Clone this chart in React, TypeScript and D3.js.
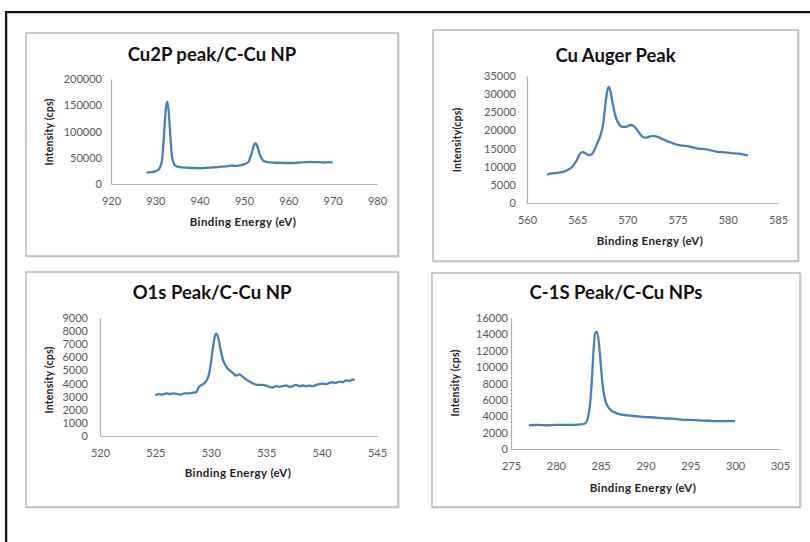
import React, { useRef, useEffect } from "react";
import * as d3 from "d3";

// Cu 2p spectrum
const cu2pEnergy = [928, 929, 930, 930.8, 931.5, 932, 932.4, 932.7, 933, 933.4, 933.8, 934.3, 935, 936, 937, 938, 939, 940, 941, 942, 943, 944, 945, 946, 947, 948, 949, 950, 951, 951.7, 952.3, 952.6, 953, 953.6, 954.3, 955, 956, 957, 958, 959, 960, 961, 962, 963, 964, 965, 966, 967, 968, 969, 970];
const cu2pCounts = [21500, 22500, 24000, 28000, 45000, 100000, 145000, 157000, 140000, 90000, 50000, 37000, 33000, 31500, 31000, 30500, 30500, 30000, 30500, 31000, 31500, 32000, 33000, 33500, 35000, 34500, 35500, 37500, 42000, 58000, 75000, 78000, 72000, 55000, 45000, 42000, 41000, 40500, 40500, 40000, 40000, 40000, 40500, 41000, 41500, 42000, 41500, 41500, 41000, 41500, 41000];

// Cu LMM Auger
const augerEnergy = [562, 562.3, 562.6, 563, 563.5, 564, 564.5, 564.9, 565.2, 565.5, 565.8, 566.1, 566.4, 566.7, 567, 567.3, 567.6, 567.8, 568, 568.15, 568.3, 568.5, 568.8, 569.1, 569.5, 569.9, 570.3, 570.6, 571, 571.4, 571.8, 572.2, 572.6, 573, 573.5, 574, 574.5, 575, 575.5, 576, 576.5, 577, 577.5, 578, 578.5, 579, 579.5, 580, 580.5, 581, 581.5, 582];
const augerCounts = [7800, 8100, 8200, 8300, 8500, 9000, 10000, 11500, 13200, 14000, 13800, 13200, 13300, 14500, 16500, 18500, 22000, 27000, 31000, 32000, 31000, 28000, 24000, 22000, 21000, 21000, 21500, 21300, 20000, 18500, 18000, 18300, 18500, 18200, 17600, 17000, 16500, 16000, 15800, 15700, 15300, 15000, 14900, 14700, 14400, 14100, 14000, 13900, 13700, 13600, 13400, 13100];

// O 1s
const o1sEnergy = [525, 525.3, 525.6, 526, 526.3, 526.6, 527, 527.3, 527.6, 528, 528.4, 528.7, 528.9, 529.2, 529.5, 529.8, 530, 530.2, 530.4, 530.5, 530.7, 530.9, 531.1, 531.4, 531.7, 532, 532.3, 532.6, 532.9, 533.2, 533.5, 533.8, 534.2, 534.6, 535, 535.3, 535.6, 535.9, 536.2, 536.5, 536.8, 537.1, 537.4, 537.7, 538, 538.3, 538.6, 538.9, 539.2, 539.5, 539.8, 540.1, 540.4, 540.7, 541, 541.3, 541.6, 541.9, 542.2, 542.5, 542.8, 543];
const o1sCounts = [3100, 3200, 3150, 3250, 3200, 3250, 3200, 3150, 3250, 3250, 3300, 3350, 3700, 3900, 4100, 4600, 5500, 6800, 7700, 7800, 7400, 6500, 5800, 5300, 5000, 4800, 4600, 4700, 4500, 4300, 4150, 4000, 3900, 3900, 3850, 3750, 3700, 3800, 3750, 3800, 3850, 3750, 3800, 3900, 3800, 3850, 3800, 3850, 3800, 3900, 3950, 4000, 3950, 4050, 4100, 4050, 4150, 4100, 4250, 4200, 4300, 4300];

// C 1s
const c1sEnergy = [277, 278, 279, 280, 281, 282, 282.8, 283.3, 283.7, 284, 284.2, 284.4, 284.6, 284.8, 285, 285.2, 285.5, 285.8, 286.2, 286.7, 287.3, 288, 289, 290, 291, 292, 293, 294, 295, 296, 297, 298, 299, 300];
const c1sCounts = [2900, 2950, 2900, 2950, 2950, 2950, 3000, 3150, 4500, 8000, 12000, 14200, 14300, 13000, 10500, 8000, 6000, 5200, 4700, 4400, 4200, 4100, 4000, 3900, 3850, 3750, 3700, 3600, 3550, 3500, 3450, 3400, 3400, 3400];

const panels = [
  { title: "Cu2P peak/C-Cu NP", yTitle: "Intensity (cps)", xs: cu2pEnergy, ys: cu2pCounts,
    xDom: [920, 980], xStep: 10, yDom: [0, 200000], yStep: 50000,
    box: [26, 33, 398, 256], px: [111, 377], py: [79, 184], titleY: 61, xTitle: [243, 226], yTitlePos: [49, 132], yPad: 9 },
  { title: "Cu Auger Peak", yTitle: "Intensity(cps)", xs: augerEnergy, ys: augerCounts,
    xDom: [560, 585], xStep: 5, yDom: [0, 35000], yStep: 5000,
    box: [433, 30, 798, 261], px: [527, 778], py: [76, 203], titleY: 62, xTitle: [650, 245], yTitlePos: [457, 140], yPad: 11 },
  { title: "O1s Peak/C-Cu NP", yTitle: "Intensity (cps)", xs: o1sEnergy, ys: o1sCounts,
    xDom: [520, 545], xStep: 5, yDom: [0, 9000], yStep: 1000,
    box: [26, 272, 398, 507], px: [100, 377], py: [318, 436], titleY: 299, xTitle: [238, 477], yTitlePos: [49, 380], yPad: 12 },
  { title: "C-1S Peak/C-Cu NPs", yTitle: "Intensity (cps)", xs: c1sEnergy, ys: c1sCounts,
    xDom: [275, 305], xStep: 5, yDom: [0, 16000], yStep: 2000,
    box: [432, 273, 800, 507], px: [511, 780], py: [318, 449], titleY: 299, xTitle: [643, 492], yTitlePos: [455, 383], yPad: 3 },
];

const font = "Lato, 'Open Sans', sans-serif";

const App = () => {
  const svgRef = useRef(null);

  useEffect(() => {
    const svg = d3.select(svgRef.current);
    svg.selectAll("*").remove();

    // outer frame
    svg.append("rect").attr("x", 7).attr("y", 13).attr("width", 820).attr("height", 560)
      .attr("fill", "none").attr("stroke", "#c8c8c8").attr("stroke-width", 2);
    svg.append("rect").attr("x", 6).attr("y", 12).attr("width", 820).attr("height", 560)
      .attr("fill", "none").attr("stroke", "#111").attr("stroke-width", 2);

    panels.forEach(p => {
      const [bx0, by0, bx1, by1] = p.box;
      svg.append("rect").attr("x", bx0 + 1).attr("y", by0 + 1).attr("width", bx1 - bx0).attr("height", by1 - by0)
        .attr("fill", "none").attr("stroke", "#e2e2e2").attr("stroke-width", 1.5);
      svg.append("rect").attr("x", bx0).attr("y", by0).attr("width", bx1 - bx0).attr("height", by1 - by0)
        .attr("fill", "white").attr("stroke", "#b8b8b8").attr("stroke-width", 1.5);

      const x = d3.scaleLinear().domain(p.xDom).range(p.px);
      const y = d3.scaleLinear().domain(p.yDom).range([p.py[1], p.py[0]]);

      const xAxis = d3.axisBottom(x).tickValues(d3.range(p.xDom[0], p.xDom[1] + 0.01, p.xStep))
        .tickSize(0).tickPadding(13).tickFormat(d3.format("d"));
      const yAxis = d3.axisLeft(y).tickValues(d3.range(p.yDom[0], p.yDom[1] + 0.01, p.yStep))
        .tickSize(0).tickPadding(p.yPad).tickFormat(d3.format("d"));

      const gx = svg.append("g").attr("transform", `translate(0,${p.py[1]})`).call(xAxis);
      const gy = svg.append("g").attr("transform", `translate(${p.px[0]},0)`).call(yAxis);
      [gx, gy].forEach(g => {
        g.select(".domain").attr("stroke", "#b0b0b0").attr("stroke-width", 1.2);
        g.selectAll("text").attr("fill", "#595959").style("font-family", font).style("font-size", "11px");
      });

      const line = d3.line().x((d, i) => x(p.xs[i])).y(d => y(d)).curve(d3.curveMonotoneX);
      svg.append("path").datum(p.ys).attr("d", line).attr("fill", "none")
        .attr("stroke", "#4a7ebb").attr("stroke-width", 2.3).attr("stroke-linejoin", "round");

      const cx = (bx0 + bx1) / 2;
      svg.append("text").attr("x", cx).attr("y", p.titleY).attr("text-anchor", "middle")
        .style("font-family", font).style("font-weight", "bold").style("font-size", "18.5px").attr("fill", "#111")
        .text(p.title);
      svg.append("text").attr("x", p.xTitle[0]).attr("y", p.xTitle[1]).attr("text-anchor", "middle")
        .style("font-family", font).style("font-weight", "bold").style("font-size", "11.5px")
        .style("letter-spacing", "0.4px").attr("fill", "#222")
        .text("Binding Energy (eV)");
      svg.append("text").attr("transform", `translate(${p.yTitlePos[0]},${p.yTitlePos[1]}) rotate(-90)`)
        .attr("text-anchor", "middle").attr("dy", "0.35em")
        .style("font-family", font).style("font-weight", "bold").style("font-size", "10.5px")
        .style("letter-spacing", "0.2px").attr("fill", "#222")
        .text(p.yTitle);
    });
  }, []);

  return (
    <svg ref={svgRef} width={810} height={542} style={{ position: "absolute", left: 0, top: 0, background: "white" }} />
  );
};

export default App;
